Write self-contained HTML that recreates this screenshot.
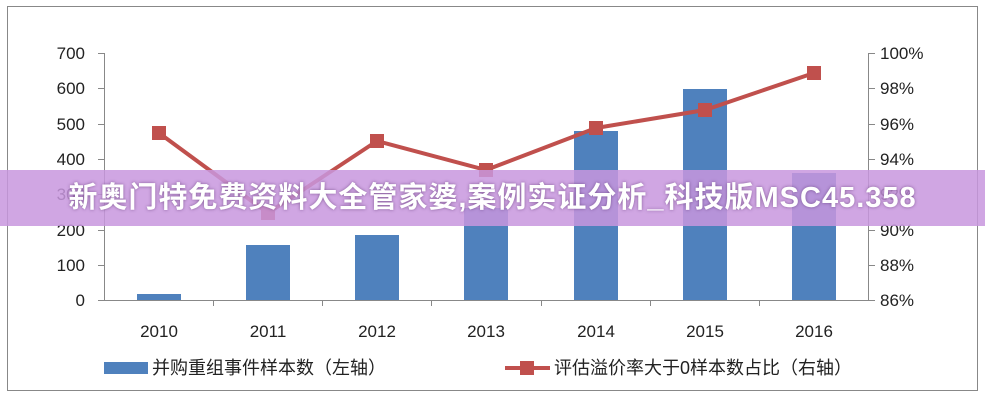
<!DOCTYPE html>
<html><head><meta charset="utf-8"><style>
body{margin:0;background:#fff;width:985px;height:400px;overflow:hidden;position:relative;font-family:"Liberation Sans","Noto Sans CJK SC",sans-serif}
.banner{position:absolute;left:0;top:170px;width:985px;height:56px;background:rgba(200,150,222,0.85);color:#fff;font-weight:bold;font-size:29px;letter-spacing:1px;line-height:56px;text-align:center;text-shadow:0 0 3px rgba(80,40,100,0.6);font-family:"Liberation Sans","Noto Sans CJK SC",sans-serif}
</style></head><body>
<svg width="985" height="400" style="position:absolute;left:0;top:0" font-family="Liberation Sans, Noto Sans CJK SC, sans-serif">
<rect x="7.5" y="6.5" width="970" height="384" fill="#fff" stroke="#888"/>
<g fill="#4f81bd">
<rect x="137" y="294" width="44" height="6"/>
<rect x="246" y="245" width="44" height="55"/>
<rect x="355" y="235" width="44" height="65"/>
<rect x="464" y="208" width="44" height="92"/>
<rect x="574" y="131" width="44" height="169"/>
<rect x="683" y="89" width="44" height="211"/>
<rect x="792" y="173" width="44" height="127"/>
</g>
<g stroke="#888" stroke-width="1">
<line x1="104.5" y1="53" x2="104.5" y2="300"/>
<line x1="868.5" y1="53" x2="868.5" y2="300"/>
<line x1="98" y1="300.5" x2="875" y2="300.5"/>
<line x1="98" y1="53.5" x2="104" y2="53.5"/><line x1="98" y1="88.5" x2="104" y2="88.5"/><line x1="98" y1="124.5" x2="104" y2="124.5"/><line x1="98" y1="159.5" x2="104" y2="159.5"/><line x1="98" y1="194.5" x2="104" y2="194.5"/><line x1="98" y1="230.5" x2="104" y2="230.5"/><line x1="98" y1="265.5" x2="104" y2="265.5"/>
<line x1="868" y1="53.5" x2="875" y2="53.5"/><line x1="868" y1="88.5" x2="875" y2="88.5"/><line x1="868" y1="124.5" x2="875" y2="124.5"/><line x1="868" y1="159.5" x2="875" y2="159.5"/><line x1="868" y1="194.5" x2="875" y2="194.5"/><line x1="868" y1="230.5" x2="875" y2="230.5"/><line x1="868" y1="265.5" x2="875" y2="265.5"/>
<line x1="213.5" y1="300" x2="213.5" y2="306"/><line x1="322.5" y1="300" x2="322.5" y2="306"/><line x1="431.5" y1="300" x2="431.5" y2="306"/><line x1="541.5" y1="300" x2="541.5" y2="306"/><line x1="650.5" y1="300" x2="650.5" y2="306"/><line x1="759.5" y1="300" x2="759.5" y2="306"/>
</g>
<g font-size="17" fill="#222" text-anchor="end">
<text x="85" y="59">700</text><text x="85" y="94">600</text><text x="85" y="130">500</text><text x="85" y="165">400</text><text x="85" y="200">300</text><text x="85" y="236">200</text><text x="85" y="271">100</text><text x="85" y="306">0</text>
</g>
<g font-size="17" fill="#222">
<text x="880" y="59">100%</text><text x="880" y="94">98%</text><text x="880" y="130">96%</text><text x="880" y="165">94%</text><text x="880" y="200">92%</text><text x="880" y="236">90%</text><text x="880" y="271">88%</text><text x="880" y="306">86%</text>
</g>
<g font-size="17" fill="#222" text-anchor="middle">
<text x="159" y="337">2010</text><text x="268" y="337">2011</text><text x="377" y="337">2012</text><text x="486" y="337">2013</text><text x="596" y="337">2014</text><text x="705" y="337">2015</text><text x="814" y="337">2016</text>
</g>
<polyline fill="none" stroke="#c0504d" stroke-width="4" points="159,133 268,213 377,141 486,170 596,128 705,110 814,73"/>
<g fill="#c0504d">
<rect x="152" y="126" width="14" height="14"/><rect x="261" y="206" width="14" height="14"/><rect x="370" y="134" width="14" height="14"/><rect x="479" y="163" width="14" height="14"/><rect x="589" y="121" width="14" height="14"/><rect x="698" y="103" width="14" height="14"/><rect x="807" y="66" width="14" height="14"/>
</g>
<rect x="104" y="362" width="44" height="12" fill="#4f81bd"/>
<text x="152" y="374" font-size="18" fill="#222">并购重组事件样本数（左轴）</text>
<line x1="505" y1="368" x2="550" y2="368" stroke="#c0504d" stroke-width="4"/>
<rect x="520" y="361" width="14" height="14" fill="#c0504d"/>
<text x="554" y="374" font-size="18" fill="#222">评估溢价率大于0样本数占比（右轴）</text>
</svg>
<div class="banner">新奥门特免费资料大全管家婆,案例实证分析_科技版MSC45.358</div>
</body></html>
